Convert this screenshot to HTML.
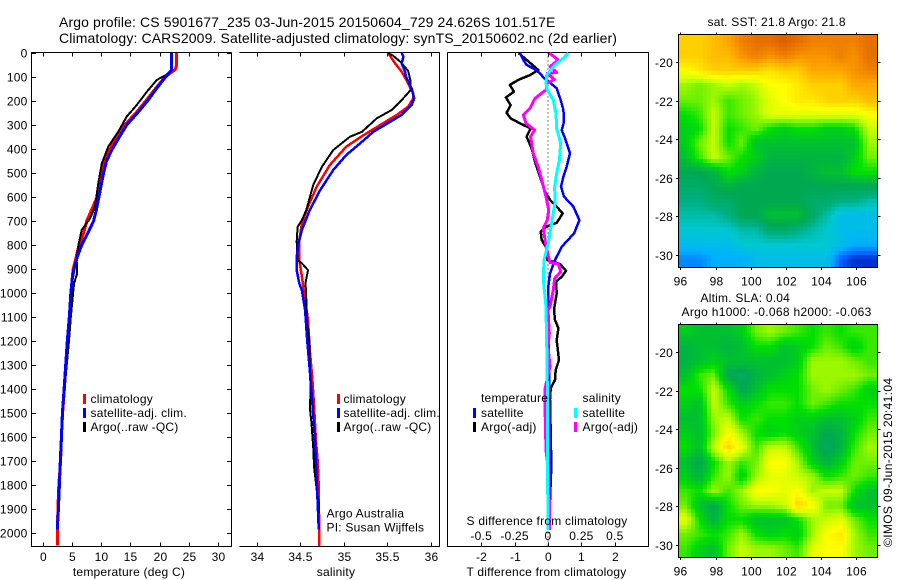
<!DOCTYPE html>
<html>
<head>
<meta charset="utf-8">
<title>Argo profile</title>
<style>
html,body{margin:0;padding:0;background:#fff;}
svg{display:block;}
text{font-family:"Liberation Sans",Arial,sans-serif;font-size:12px;fill:#000;letter-spacing:.22px;}
.title{font-size:14px;letter-spacing:.12px;}
.frame{stroke:#000;stroke-width:1;fill:none;shape-rendering:crispEdges;}
</style>
</head>
<body>
<svg id="fig" xmlns="http://www.w3.org/2000/svg" width="900" height="580" viewBox="0 0 900 580">
  <rect width="900" height="580" fill="#fff"/>
  <text class="title" x="59" y="27">Argo profile: CS 5901677_235 03-Jun-2015 20150604_729 24.626S 101.517E</text>
  <text class="title" x="59" y="43">Climatology: CARS2009. Satellite-adjusted climatology: synTS_20150602.nc (2d earlier)</text>

  <g id="panel-t"></g>
  <g id="panel-s"></g>
  <g id="panel-d"></g>
  <g id="map-sst"></g>
  <g id="map-sla"></g>

  <text x="129" y="576" text-anchor="middle">temperature (deg C)</text>
  <text x="336" y="576" text-anchor="middle">salinity</text>
  <text x="546.5" y="576" text-anchor="middle">T difference from climatology</text>
  <text x="547" y="525" text-anchor="middle">S difference from climatology</text>

  <g>
    <rect x="83" y="394" width="3" height="10" fill="#f00"/>
    <text x="90.5" y="403">climatology</text>
    <rect x="83" y="408" width="3" height="10" fill="#00f"/>
    <text x="90.5" y="417">satellite-adj. clim.</text>
    <rect x="83" y="422" width="3" height="10" fill="#000"/>
    <text x="90.5" y="431">Argo(..raw -QC)</text>
  </g>
  <g>
    <rect x="337" y="394" width="3" height="10" fill="#f00"/>
    <text x="343.5" y="403">climatology</text>
    <rect x="337" y="408" width="3" height="10" fill="#00f"/>
    <text x="343.5" y="417">satellite-adj. clim.</text>
    <rect x="337" y="422" width="3" height="10" fill="#000"/>
    <text x="343.5" y="431">Argo(..raw -QC)</text>
  </g>
  <text x="326.5" y="517.5">Argo Australia</text>
  <text x="326.5" y="531.5">PI: Susan Wijffels</text>
  <g>
    <text x="481" y="402">temperature</text>
    <rect x="473" y="408" width="3" height="10" fill="#00f"/>
    <text x="481" y="417">satellite</text>
    <rect x="473" y="422" width="3" height="10" fill="#000"/>
    <text x="481" y="431">Argo(-adj)</text>
    <text x="582.5" y="402">salinity</text>
    <rect x="574" y="408" width="3" height="10" fill="#0ff"/>
    <text x="582.5" y="417">satellite</text>
    <rect x="574" y="422" width="3" height="10" fill="#f0f"/>
    <text x="582.5" y="431">Argo(-adj)</text>
  </g>

  <text x="707.5" y="26">sat. SST: 21.8 Argo: 21.8</text>
  <text x="700.5" y="302">Altim. SLA: 0.04</text>
  <text x="681.5" y="316" style="letter-spacing:.31px">Argo h1000: -0.068 h2000: -0.063</text>
  <text transform="translate(892,547) rotate(-90)" style="letter-spacing:.35px">©IMOS 09-Jun-2015 20:41:04</text>
</svg>
<script>
// ---- chart data ----
var depthTicks = [0,100,200,300,400,500,600,700,800,900,1000,1100,1200,1300,1400,1500,1600,1700,1800,1900,2000];
var tempTicks = [0,5,10,15,20,25,30];
var salTicks = [34,34.5,35,35.5,36];
var salTickLabels = ['34','34.5','35','35.5','36'];
var tDiffTicks = [-2,-1,0,1,2];
var sDiffTicks = [-0.5,-0.25,0,0.25,0.5];
var lonTicks = [96,98,100,102,104,106];
var latTicks = [-20,-22,-24,-26,-28,-30];

var climDepths = [0,50,70,100,150,200,250,300,350,400,450,500,550,600,650,700,750,800,850,900,950,1000,1100,1200,1300,1400,1500,1600,1700,1800,1900,2000,2052];
var climTemp = [22.9,22.9,22.6,20.9,19.2,17.6,15.9,14.0,12.7,11.5,10.6,10.1,9.7,9.3,8.4,7.5,7.0,6.2,5.7,5.2,5.0,4.85,4.6,4.25,3.95,3.7,3.4,3.2,3.05,2.75,2.6,2.5,2.5];
var satDepths = [0,70,100,150,200,250,300,350,400,450,500,550,600,650,700,750,800,850,900,950,1000,1100,1200,1300,1400,1500,1600,1700,1800,1900,1985];
var satTemp = [22.04,22.04,21.0,19.4,17.9,16.2,14.35,13.1,11.9,10.9,10.4,10.0,9.6,9.2,8.7,7.7,6.66,5.9,5.35,5.0,4.8,4.55,4.2,3.93,3.65,3.36,3.2,3.0,2.85,2.68,2.5];
var argoTempDepths = [0,70,90,112,161,217,265,328,390,460,543,640,689,737,800,862,890,918,960,988,1100,1200,1300,1400,1500,1600,1700,1800,1900,1985];
var argoTemp = [22.0,22.0,21.2,19.5,17.8,16.06,14.35,12.9,11.2,10.1,9.5,8.94,8.09,6.66,6.1,5.8,5.9,5.9,5.35,5.24,4.8,4.5,4.1,3.75,3.4,3.3,3.1,2.9,2.75,2.5];

var climSalDepths = [0,43,78,112,168,189,224,258,300,342,390,467,557,640,710,779,862,932,988,1112,1237,1362,1474,1612,1696,1779,2001,2054];
var climSal = [35.51,35.59,35.667,35.72,35.80,35.80,35.74,35.61,35.42,35.23,35.03,34.84,34.69,34.59,34.52,34.49,34.49,34.52,34.54,34.59,34.61,34.64,34.66,34.68,34.70,34.71,34.72,34.72];
var satSalDepths = [0,15,43,78,99,147,189,217,258,296,328,376,425,487,571,654,737,793,849,904,960,988,1071,1196,1321,1460,1612,1779,1960,1985];
var satSal = [35.667,35.686,35.667,35.705,35.716,35.78,35.81,35.78,35.667,35.49,35.34,35.19,35.03,34.88,34.73,34.61,34.52,34.48,34.46,34.46,34.49,34.52,34.556,34.58,34.61,34.64,34.67,34.69,34.71,34.71];
var argoSalDepths = [0,12,36,74,119,154,196,238,272,328,349,404,474,550,654,696,724,786,862,876,904,932,960,988,1029,1112,1196,1293,1418,1474,1543,1640,1724,1820,1876,1960];
var argoSal = [35.51,35.57,35.65,35.74,35.77,35.77,35.667,35.55,35.38,35.21,35.07,34.88,34.75,34.65,34.57,34.52,34.47,34.46,34.47,34.52,34.59,34.575,34.56,34.567,34.57,34.575,34.605,34.61,34.62,34.61,34.63,34.65,34.66,34.69,34.716,34.71];

var satTDiffDepths = [0,29,50,68,85,101,126,147,196,237,286,321,355,418,473,515,557,598,640,696,751,807,862,918,973,1070,1300,1600,1985];
var satTDiff = [-0.84,-0.74,-0.64,-0.39,-0.24,-0.14,0.08,0.26,0.38,0.46,0.48,0.41,0.51,0.66,0.56,0.46,0.39,0.48,0.76,0.94,0.78,0.41,0.21,0.06,0.01,0.01,0.03,0.05,0.05];
var argoTDiffDepths = [0,71,92,112,133,161,185,217,249,272,293,314,348,397,453,515,577,612,640,668,707,723,744,779,814,862,879,907,932,952,1001,1043,1070,1112,1147,1196,1279,1320,1362,1397,1445,1584,1723,1862,1987];
var argoTDiff = [-0.88,-0.29,-0.54,-0.89,-1.14,-1.02,-1.26,-1.12,-1.24,-1.12,-0.84,-0.52,-0.64,-0.49,-0.39,-0.24,-0.09,0.06,0.26,0.44,0.26,-0.04,-0.22,-0.19,-0.04,-0.02,0.36,0.54,0.41,0.24,0.26,0.21,0.18,0.21,0.31,0.26,0.33,0.23,0.21,0.08,0.06,0.08,0.10,0.06,0.02];
var satSDiffDepths = [0,22,50,92,126,154,196,251,314,376,446,501,557,626,709,793,862,945,1043,1070,1209,1376,1584,1793,1862,1987];
var satSDiff = [0.152,0.115,0.052,-0.01,-0.015,-0.005,0.04,0.06,0.065,0.095,0.085,0.065,0.05,0.052,0.027,0.0025,-0.03,-0.035,-0.017,-0.015,-0.01,-0.005,-0.005,-0.005,0,0];
var argoSDiffDepths = [0,29,57,81,85,110,126,151,189,230,258,293,321,348,418,480,529,598,654,696,730,786,848,873,879,911,939,987,1057,1070,1168,1223,1307,1397,1487,1654,1723,1862,1987];
var argoSDiff = [0.01,0.077,0.015,0.065,-0.005,0.047,-0.01,-0.01,-0.097,-0.135,-0.185,-0.165,-0.10,-0.13,-0.11,-0.07,-0.047,-0.015,0.005,-0.005,-0.035,-0.02,0.0025,0.015,0.077,0.095,0.05,0.04,0.015,0,0.01,0,0.015,-0.022,-0.022,-0.015,0,0.01,0.01];

var mapLons = [96.3,97.1,97.9,98.7,99.5,100.3,101.1,101.9,102.7,103.5,104.3,105.1,105.9,106.7];
var mapLats = [-18.95,-19.7,-20.45,-21.2,-21.95,-22.7,-23.45,-24.2,-24.95,-25.7,-26.45,-27.2,-27.95,-28.7,-29.45,-30.2];
var sstLevels = [
[11,11,11.5,12,13,13.5,13.5,14,13.5,13,13,13,13,13.5],
[11,11,11.5,11.5,12.5,13,12.5,13,12.5,12.5,12.5,13,12.5,13.5],
[10,10.5,11,11,11,11,10.5,11,11,12,12,12,12.5,13],
[8.5,8,8.5,9,8.5,9,10,10,10.5,11,11,11,12,12],
[8,8,8.5,7.5,8,8.5,9.5,10,10.5,10.5,11,11,11,11.5],
[7,7.5,9,7.5,8,8.5,9.5,9.5,9.5,9.5,9.5,9.5,9.5,10],
[6.5,7,9,7,7.5,8,7,6.5,7,7,6.5,6.5,7,9],
[6.5,8,9,7,8,6,6,6,6,6,6,6,6,8.5],
[6,7.5,9,8,7,6.5,5.5,5.5,5.5,5.5,5.5,5.5,6.5,8],
[5,5,5.5,7,6.5,5.5,5,5,5,5.5,6,6,7,7],
[4.5,4.5,5,5.5,5,5,5,5,5,5,5,5,5,5],
[4,4,4.5,4.5,5,5,5,5,5,4.5,4.5,4,4,3.5],
[3.5,3.5,3.5,4,5,5,6,6,6,4.5,3.5,2.5,2.5,2.5],
[3,3,3,3,3.5,3.5,4.5,4.5,4,3.5,3,2.5,2.5,2.5],
[2.5,2.5,2.5,2.5,3,3,3,3,3,3,3,2.5,2,2],
[1.5,1.5,2,2,2,2.5,2.5,2.5,2.5,2.5,2.5,1,0.5,0.5]
];
var slaLevels = [
[6.5,6,6,6,6.5,8,8.5,8,7.5,7,7.5,7,7.5,7.5],
[5.5,6,6,5.5,6,7,7,6,6.5,7,8,7.5,6.5,7.5],
[5.5,6,6.5,6,6,6,6,6,6.5,8.5,8.5,8.5,8,7.5],
[6,7.5,8,5,4.5,5.5,6,6.5,7,8.5,8.5,8.5,8.5,8],
[7,7,9,7,5,6,7,7,7,8,8.5,8,7.5,6.5],
[6.5,6,9,7.5,6.5,7,7.5,7.5,7,8,7.5,7,7,7],
[6,6,8.5,9,7,7.5,7,7,6.5,6.5,6,6,6.5,7.5],
[6.5,6,8,10,8.5,7,6.5,7,6.5,6,5,5.5,7,8],
[7,6,9,11,9.5,7.5,9,9,7.5,6,4.5,5.5,7.5,8.5],
[6,5,7,8.5,7.5,8,10,10,8.5,6.5,5.5,6.5,8,8],
[6.5,5.5,7.5,8.5,6.5,8.5,9.5,9.5,9,8.5,7,7.5,8,7.5],
[7.5,7,8.5,7.5,8.5,10,10,9.5,10,8.5,9,9,7,6],
[8,6,5,7,8,8.5,8.5,9,11,10,8,8,6,6],
[9.5,7,5.5,7,7,6,6,6,7,8.5,9,9.5,8,7],
[8,7.5,7,7.5,8.5,7,6.5,7,6.5,8.5,10,10.5,8.5,7.5],
[7.5,6.5,6,8,9,8.5,8.5,8,7.5,9.5,10,10,8.5,8]
];

// ---- drawing ----
var NS = 'http://www.w3.org/2000/svg';
var colourStops = ['#0000a0','#0060ff','#00b0ff','#00c8d0','#00b080','#00a850','#00c030','#00e000','#70f000','#c8ff00','#ffff00','#ffd000','#ffa800','#f08000','#d86000'];

function mk(parent, tag, attrs, txt) {
  var el = document.createElementNS(NS, tag);
  for (var k in attrs) el.setAttribute(k, attrs[k]);
  if (txt !== undefined) el.textContent = txt;
  parent.appendChild(el);
  return el;
}
function yDepth(d) { return 53 + 0.2401 * d; }
function xTemp(t) { return 42.7 + 5.853 * t; }
function xSal(s) { return 256.7 + 87 * (s - 34); }
function xTDiff(v) { return 548 + 33.4 * v; }
function xSDiff(v) { return 548 + 133.6 * v; }

function tick(g, x1, y1, x2, y2) {
  var el = mk(g, 'line', {x1: x1, y1: y1, x2: x2, y2: y2, class: 'frame'});
  
  
}
function label(g, x, y, anchor, s) {
  var el = mk(g, 'text', {x: x, y: y, 'text-anchor': anchor}, s);
  
  
}
function profile(g, name, depths, vals, xf, colour, w) {
  var pts = [];
  for (var i = 0; i < depths.length; i++) pts.push(xf(vals[i]).toFixed(1) + ',' + yDepth(depths[i]).toFixed(1));
  var el = mk(g, 'polyline', {points: pts.join(' '), fill: 'none', stroke: colour, 'stroke-width': w, 'shape-rendering': 'crispEdges', 'stroke-linejoin': 'round'});
  
  
}
function frame(g, x0, x1, pts) {
  var el = mk(g, 'polyline', {points: pts, class: 'frame'});
  
  
}

var top_ = 52.5, bot = 546.5;

// temperature panel
var gt = document.getElementById('panel-t');
frame(gt, 0, 0, '231.5,' + top_ + ' 31.5,' + top_ + ' 31.5,' + bot + ' 231.5,' + bot + ' 231.5,' + top_);
depthTicks.forEach(function (d) {
  var y = Math.round(yDepth(d)) + 0.5;
  tick(gt, 31.5, y, 36, y);
  tick(gt, 227, y, 231.5, y);
  label(gt, 27.5, y + 4, 'end', String(d));
});
tempTicks.forEach(function (t) {
  var x = Math.round(xTemp(t)) + 0.5;
  tick(gt, x, top_, x, top_ + 4);
  tick(gt, x, bot - 4, x, bot);
  label(gt, x, 561, 'middle', String(t));
});
profile(gt, 'climatology-temperature-line', climDepths, climTemp, xTemp, '#f00', 3);
profile(gt, 'argo-temperature-line', argoTempDepths, argoTemp, xTemp, '#000', 2);
profile(gt, 'satellite-temperature-line', satDepths, satTemp, xTemp, '#00f', 3);

// salinity panel (no left spine)
var gs = document.getElementById('panel-s');
frame(gs, 0, 0, '239.5,' + top_ + ' 439.5,' + top_ + ' 439.5,' + bot + ' 239.5,' + bot);
salTicks.forEach(function (s, i) {
  var x = Math.round(xSal(s)) + 0.5;
  tick(gs, x, top_, x, top_ + 4);
  tick(gs, x, bot - 4, x, bot);
  label(gs, x, 561, 'middle', salTickLabels[i]);
});
profile(gs, 'climatology-salinity-line', climSalDepths, climSal, xSal, '#f00', 2.5);
profile(gs, 'argo-salinity-line', argoSalDepths, argoSal, xSal, '#000', 2);
profile(gs, 'satellite-salinity-line', satSalDepths, satSal, xSal, '#00f', 2.5);

// difference panel
var gd = document.getElementById('panel-d');
frame(gd, 0, 0, '447.5,' + top_ + ' 648.5,' + top_ + ' 648.5,' + bot + ' 447.5,' + bot + ' 447.5,' + top_);
var zero = mk(gd, 'line', {x1: xTDiff(0), y1: top_, x2: xTDiff(0), y2: bot, stroke: '#000', 'stroke-width': 1, 'stroke-dasharray': '1 3'});


tDiffTicks.forEach(function (v) {
  var x = Math.round(xTDiff(v)) + 0.5;
  tick(gd, x, top_, x, top_ + 4);
  tick(gd, x, bot - 4, x, bot);
  label(gd, x, 561, 'middle', String(v));
});
sDiffTicks.forEach(function (v) {
  label(gd, xSDiff(v), 540, 'middle', String(v));
});
profile(gd, 'argo-t-difference-line', argoTDiffDepths, argoTDiff, xTDiff, '#000', 2.5);
profile(gd, 'satellite-t-difference-line', satTDiffDepths, satTDiff, xTDiff, '#00f', 2.5);
profile(gd, 'argo-s-difference-line', argoSDiffDepths, argoSDiff, xSDiff, '#f0f', 3);
profile(gd, 'satellite-s-difference-line', satSDiffDepths, satSDiff, xSDiff, '#0ff', 3);

// maps
function hex(c) { return [parseInt(c.substr(1, 2), 16), parseInt(c.substr(3, 2), 16), parseInt(c.substr(5, 2), 16)]; }
function colourOf(v) {
  var n = colourStops.length - 1;
  var p = Math.max(0, Math.min(n, v));
  var i = Math.min(n - 1, Math.floor(p));
  var f = p - i;
  var a = hex(colourStops[i]), b = hex(colourStops[i + 1]);
  return 'rgb(' + Math.round(a[0] + (b[0] - a[0]) * f) + ',' + Math.round(a[1] + (b[1] - a[1]) * f) + ',' + Math.round(a[2] + (b[2] - a[2]) * f) + ')';
}
function gridPos(arr, v) {
  var asc = arr[1] > arr[0], n = arr.length;
  for (var i = 0; i < n - 1; i++) {
    var a = arr[i], b = arr[i + 1];
    if (asc ? v <= b : v >= b) {
      var f = (v - a) / (b - a);
      return [i, Math.max(0, f)];
    }
  }
  return [n - 2, 1];
}
function drawMap(id, levels, top, name) {
  var g = document.getElementById(id);
  var left = 679, right = 877.5, bottom = top + 232.5;
  function xLon(lon) { return 680.3 + 17.6 * (lon - 96); }
  function yLat(lat) { return top + 27.3 + 19.27 * (-20 - lat); }
  var step = 4;
  for (var py = top; py < bottom; py += step) {
    var lat = -20 - (py + step / 2 - top - 27.3) / 19.27;
    var r = gridPos(mapLats, lat);
    for (var px = left; px < right; px += step) {
      var lon = 96 + (px + step / 2 - 680.3) / 17.6;
      var c = gridPos(mapLons, lon);
      var v00 = levels[r[0]][c[0]], v01 = levels[r[0]][c[0] + 1], v10 = levels[r[0] + 1][c[0]], v11 = levels[r[0] + 1][c[0] + 1];
      var v = (v00 * (1 - c[1]) + v01 * c[1]) * (1 - r[1]) + (v10 * (1 - c[1]) + v11 * c[1]) * r[1];
      var cell = mk(g, 'rect', {x: px, y: py, width: Math.min(step, right - px), height: Math.min(step, bottom - py), fill: colourOf(v), 'shape-rendering': 'crispEdges'});
      
      
    }
  }
  var box = mk(g, 'rect', {x: left - 0.5, y: top - 0.5, width: right - left + 0.5, height: bottom - top + 0.5, class: 'frame'});
  
  
  lonTicks.forEach(function (lon) {
    var x = Math.round(xLon(lon)) + 0.5;
    tick(g, x, top - 2.5, x, top);
    tick(g, x, bottom, x, bottom + 2.5);
    label(g, x, bottom + 18, 'middle', String(lon));
  });
  latTicks.forEach(function (lat) {
    var y = Math.round(yLat(lat)) + 0.5;
    tick(g, left - 3, y, left, y);
    tick(g, right, y, right + 3, y);
    label(g, 673, y + 4.5, 'end', String(lat));
  });
}
drawMap('map-sst', sstLevels, 35, 'sst');
drawMap('map-sla', slaLevels, 325, 'sla');
</script>
</body>
</html>
